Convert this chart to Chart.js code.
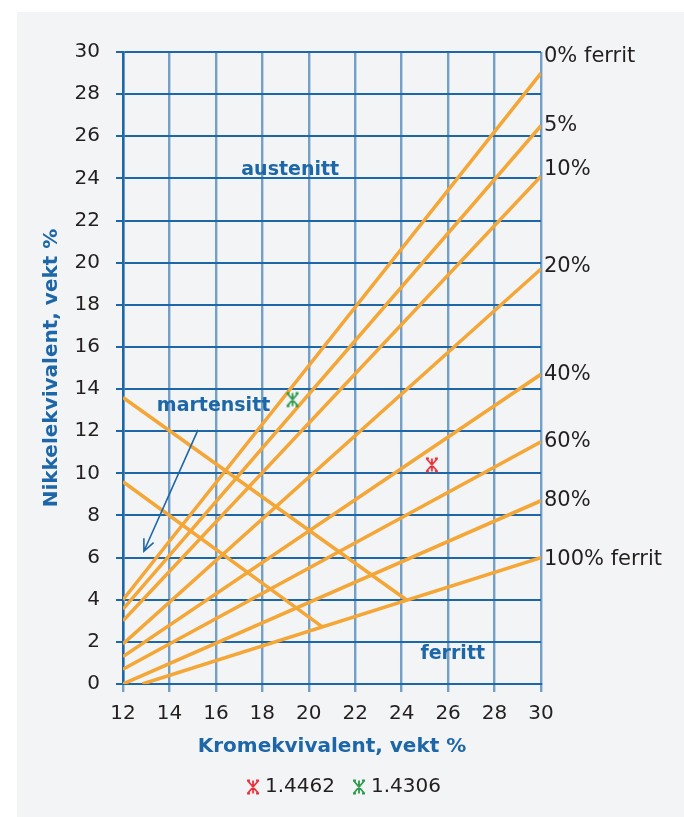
<!DOCTYPE html>
<html>
<head>
<meta charset="utf-8">
<script src="https://cdn.jsdelivr.net/npm/chart.js@4.4.1/dist/chart.umd.min.js"></script>
<style>
  html, body { margin: 0; padding: 0; background: #ffffff; }
  canvas { display: block; }
</style>
</head>
<body>
<canvas id="chart" width="684" height="817" style="width:684px;height:817px"></canvas>
<script>
// Schaeffler diagram: iso-ferrite lines, martensite boundaries and two steel grades

// Iso-ferrite lines (Cr-equivalent -> Ni-equivalent, weight %)
const ferriteLabels  = ['0% ferrit', '5%', '10%', '20%', '40%', '60%', '80%', '100% ferrit'];
const ferriteStartCr = [12, 12, 12, 12, 12, 12, 12, 12.83];
const ferriteStartNi = [4.0, 3.55, 3.0, 1.9, 1.3, 0.7, 0.0, 0.0];
const ferriteEndCr   = [30, 30, 30, 30, 30, 30, 30, 30];
const ferriteEndNi   = [29.0, 26.5, 24.1, 19.7, 14.7, 11.5, 8.7, 6.0];
const ferriteLabelNi = [29.8, 26.5, 24.4, 19.8, 14.7, 11.5, 8.7, 5.9];

// Martensite boundary lines
const martensiteCr = [[12, 24.2], [12, 20.6]];
const martensiteNi = [[13.6, 4.0], [9.6, 2.7]];

// Steel grades
const gradeNames  = ['1.4462', '1.4306'];
const gradeCr     = [25.3, 19.3];
const gradeNi     = [10.4, 13.5];
const gradeColors = ['#e8313a', '#2e9a4c'];

// Phase region names
const regionNames = ['austenitt', 'martensitt', 'ferritt'];
const regionCr    = [19.2, 15.9, 26.2];
const regionNi    = [24.4, 13.2, 1.4];

// Arrow pointing into the martensite region
const arrowFrom = [15.23, 12.06];
const arrowTo   = [12.9, 6.3];

// Axis ticks
const crTicks = [12, 14, 16, 18, 20, 22, 24, 26, 28, 30];
const niTicks = [0, 2, 4, 6, 8, 10, 12, 14, 16, 18, 20, 22, 24, 26, 28, 30];

const BLUE = '#1d67a8';
const ORANGE = '#f4a636';
const FONT = '"DejaVu Sans", sans-serif';

// Six-armed asterisk marker with small caps at the ends
function makeStar(color) {
  const s = 18, m = s / 2, r = 6.5, d = 5.5;
  const c = document.createElement('canvas');
  c.width = s; c.height = s;
  const g = c.getContext('2d');
  g.strokeStyle = color;
  g.lineWidth = 1.8;
  g.beginPath();
  g.moveTo(m, m - r); g.lineTo(m, m + r);
  g.moveTo(m - d, m - r); g.lineTo(m + d, m + r);
  g.moveTo(m + d, m - r); g.lineTo(m - d, m + r);
  [-1, 1].forEach((sy) => {
    const yy = m + sy * r;
    g.moveTo(m - d - 0.5, yy); g.lineTo(m - d + 2.5, yy);
    g.moveTo(m + d + 0.5, yy); g.lineTo(m + d - 2.5, yy);
  });
  g.stroke();
  return c;
}

const datasets = [];

gradeNames.forEach((name, i) => {
  datasets.push({
    label: name,
    data: [{ x: gradeCr[i], y: gradeNi[i] }],
    pointStyle: makeStar(gradeColors[i]),
    pointRadius: 8,
    showLine: false,
    borderColor: gradeColors[i],
    backgroundColor: gradeColors[i]
  });
});

martensiteCr.forEach((cr, i) => {
  datasets.push({
    label: 'martensitt-' + i,
    data: cr.map((v, k) => ({ x: v, y: martensiteNi[i][k] })),
    showLine: true,
    borderColor: ORANGE,
    borderWidth: 3.5,
    pointRadius: 0
  });
});

ferriteLabels.forEach((name, i) => {
  datasets.push({
    label: name,
    data: [
      { x: ferriteStartCr[i], y: ferriteStartNi[i] },
      { x: ferriteEndCr[i], y: ferriteEndNi[i] }
    ],
    showLine: true,
    borderColor: ORANGE,
    borderWidth: 3.5,
    pointRadius: 0
  });
});

const decor = {
  id: 'decor',
  beforeDraw(chart) {
    const { ctx, scales: { x, y } } = chart;
    ctx.save();
    ctx.fillStyle = '#f3f4f6';
    ctx.fillRect(17, 12, chart.width - 17, chart.height - 12);
    ctx.font = 'bold 19px ' + FONT;
    ctx.fillStyle = BLUE;
    ctx.textAlign = 'center';
    ctx.textBaseline = 'middle';
    regionNames.forEach((t, i) => {
      ctx.fillText(t, x.getPixelForValue(regionCr[i]), y.getPixelForValue(regionNi[i]));
    });
    ctx.restore();
  },
  afterDatasetsDraw(chart) {
    const { ctx, scales: { x, y } } = chart;
    const x0 = x.getPixelForValue(arrowFrom[0]), y0 = y.getPixelForValue(arrowFrom[1]);
    const x1 = x.getPixelForValue(arrowTo[0]),   y1 = y.getPixelForValue(arrowTo[1]);
    const ang = Math.atan2(y1 - y0, x1 - x0);
    const head = 13, spread = 0.42;
    ctx.save();
    ctx.strokeStyle = BLUE;
    ctx.lineWidth = 1.6;
    ctx.beginPath();
    ctx.moveTo(x0, y0); ctx.lineTo(x1, y1);
    ctx.moveTo(x1 - head * Math.cos(ang - spread), y1 - head * Math.sin(ang - spread));
    ctx.lineTo(x1, y1);
    ctx.lineTo(x1 - head * Math.cos(ang + spread), y1 - head * Math.sin(ang + spread));
    ctx.stroke();
    ctx.restore();
  },
  afterDraw(chart) {
    const { ctx, chartArea, scales: { y } } = chart;
    ctx.save();
    ctx.font = '21px ' + FONT;
    ctx.fillStyle = '#231f20';
    ctx.textAlign = 'left';
    ctx.textBaseline = 'middle';
    ferriteLabels.forEach((t, i) => {
      ctx.fillText(t, chartArea.right + 3, y.getPixelForValue(ferriteLabelNi[i]));
    });
    ctx.restore();
  }
};

new Chart(document.getElementById('chart'), {
  type: 'scatter',
  data: { datasets },
  plugins: [decor],
  options: {
    responsive: false,
    animation: false,
    devicePixelRatio: 1,
    events: [],
    layout: { padding: { left: 8, right: 0, top: 52, bottom: 10 } },
    plugins: {
      tooltip: { enabled: false },
      legend: {
        position: 'bottom',
        labels: {
          filter: (item) => gradeNames.includes(item.text),
          usePointStyle: true,
          boxWidth: 4,
          padding: 22,
          color: '#231f20',
          font: { family: FONT, size: 20 }
        }
      }
    },
    scales: {
      x: {
        type: 'linear',
        min: 12,
        max: 30,
        afterBuildTicks: (s) => { s.ticks = crTicks.map(v => ({ value: v })); },
        afterFit: (s) => { s.height = 71; },
        grid: { color: 'rgba(29,103,168,0.6)', lineWidth: 2.4, tickLength: 8, drawTicks: true },
        border: { display: true, color: BLUE, width: 2 },
        ticks: { color: '#231f20', padding: 10, font: { family: FONT, size: 20 } },
        title: {
          display: true,
          text: 'Kromekvivalent, vekt %',
          color: BLUE,
          font: { family: FONT, size: 20, weight: 'bold' },
          padding: { top: 0, bottom: -4 }
        }
      },
      y: {
        type: 'linear',
        min: 0,
        max: 30,
        afterBuildTicks: (s) => { s.ticks = niTicks.map(v => ({ value: v })); },
        afterFit: (s) => { s.width = 115; },
        grid: { color: BLUE, lineWidth: 2, tickLength: 7, drawTicks: true },
        border: { display: true, color: BLUE, width: 2.5 },
        ticks: { color: '#231f20', padding: 16, font: { family: FONT, size: 20 } },
        title: {
          display: true,
          text: 'Nikkelekvivalent, vekt %',
          color: BLUE,
          font: { family: FONT, size: 20, weight: 'bold' },
          padding: { top: 32, bottom: 0 }
        }
      },
      // empty right-hand axis that reserves room for the ferrite labels
      yLabels: {
        type: 'linear',
        position: 'right',
        min: 0,
        max: 30,
        afterFit: (s) => { s.width = 143; },
        grid: { display: false, drawTicks: false },
        border: { display: false },
        ticks: { display: false }
      }
    }
  }
});
</script>
</body>
</html>
